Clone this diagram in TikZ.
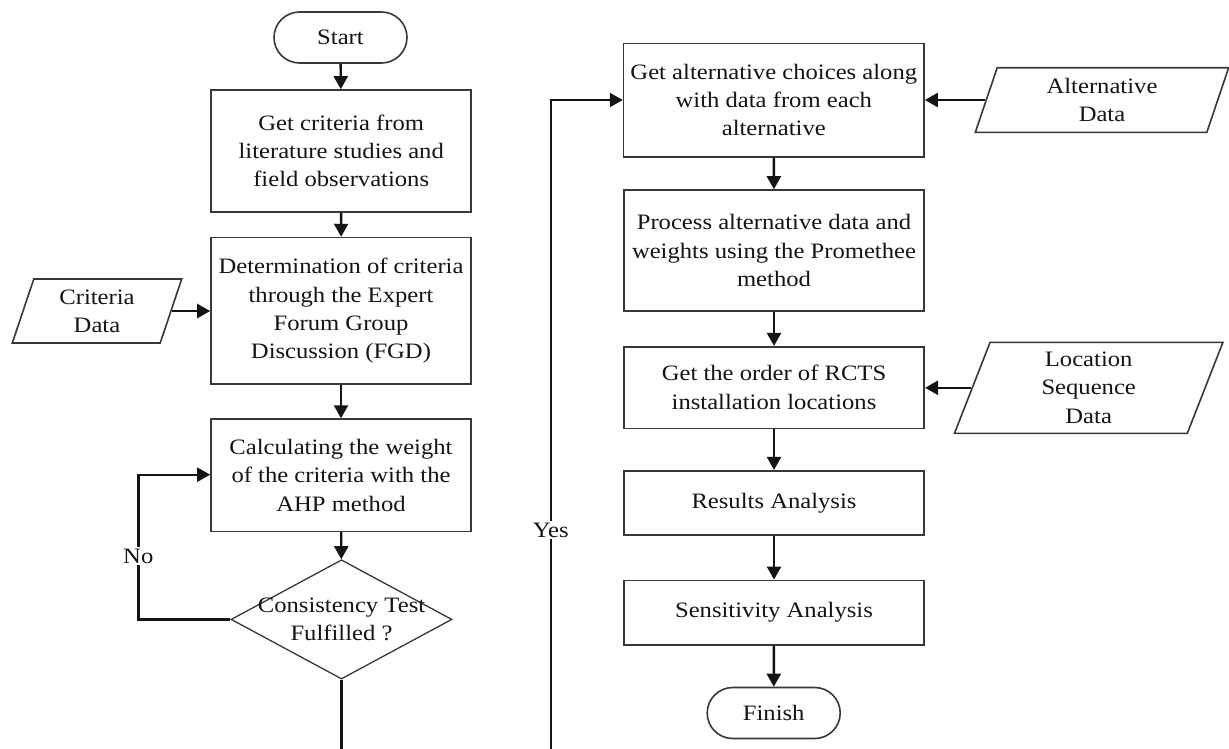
\documentclass[tikz,border=0pt]{standalone}
\usepackage{fontspec}
\setmainfont{Liberation Serif}[FakeStretch=1.12]
\usetikzlibrary{shapes.geometric,arrows.meta}
\definecolor{ink}{HTML}{141414}
\definecolor{edge}{HTML}{383838}
\begin{document}
\begin{tikzpicture}[x=1pt,y=-1pt,
  base/.style={font=\fontsize{22}{28.3}\selectfont, text=ink, align=center, inner sep=0pt},
  proc/.style={base, rectangle, draw=edge, line width=1.6pt},
  lproc/.style={proc, minimum width=260pt},
  rproc/.style={proc, minimum width=300.5pt},
  term/.style={base, rectangle, draw=edge, line width=1.6pt, rounded corners=25.5pt,
    minimum width=133pt, minimum height=51pt},
  iodata/.style={base, trapezium, trapezium left angle=63.5, trapezium right angle=116.5,
    trapezium stretches body, draw=edge, line width=1.6pt},
  decision/.style={diamond, draw=edge, line width=1.3pt, inner sep=0pt,
    minimum width=221pt, minimum height=119.3pt},
  flow/.style={draw=ink, line width=2.4pt, -{Triangle[length=13pt,width=14pt]}},
  tag/.style={base, fill=white, inner sep=2pt}
]
\clip (0,0) rectangle (1229,748);
\fill[white] (0,0) rectangle (1229,748);

% left column
\node[term] (start) at (340.5,37.5) {Start};
\node[lproc, minimum height=122pt] (crit) at (341.2,151) {Get criteria from\\literature studies and\\field observations};
\node[lproc, minimum height=146.5pt] (fgd) at (341,310.8) {Determination of criteria\\through the Expert\\Forum Group\\Discussion (FGD)};
\node[lproc, minimum height=112.3pt] (ahp) at (341,475.2) {Calculating the weight\\of the criteria with the\\AHP method};
\node[decision, label={[base]center:{Consistency Test\\Fulfilled ?}}] (test) at (341.5,619.4) {};
\node[iodata, minimum width=169.4pt, minimum height=64pt] (cdata) at (97,311) {Criteria\\Data};

% right column
\node[rproc, minimum height=113.4pt] (alt) at (773.8,100) {Get alternative choices along\\with data from each\\alternative};
\node[rproc, minimum height=121pt] (prom) at (774,250.5) {Process alternative data and\\weights using the Promethee\\method};
\node[rproc, minimum height=81.6pt] (order) at (774,387.5) {Get the order of RCTS\\installation locations};
\node[rproc, minimum height=64.3pt] (res) at (774,502.9) {Results Analysis};
\node[rproc, minimum height=64.4pt] (sens) at (774,612.5) {Sensitivity Analysis};
\node[term] (finish) at (773.7,713) {Finish};
\node[iodata, minimum width=253.3pt, minimum height=64.6pt] (adata) at (1102,100) {Alternative\\Data};
\node[iodata, minimum width=268.4pt, minimum height=91pt] (ldata) at (1088.7,387.8) {Location\\Sequence\\Data};

% main flow
\draw[flow] (start) -- (crit);
\draw[flow] (crit) -- (fgd);
\draw[flow] (cdata.east) -- (fgd.west |- cdata.east);
\draw[flow] (fgd) -- (ahp);
\draw[flow] (ahp) -- (test);

% rejection loop
\coordinate (nobend) at (138.3,474.7);
\draw[flow] (test.west) -| (nobend) -- (nobend -| ahp.west);
\node[tag] (nolabel) at (138.3,556) {No};

% acceptance path, continuing below the frame
\coordinate (yesfoot) at (550.7,770);
\draw[flow] (test.south) -- (test.south |- yesfoot) -- (yesfoot) |- (alt.west);
\node[tag] (yeslabel) at (550.7,530) {Yes};

\draw[flow] (adata.west) -- (alt.east |- adata.west);
\draw[flow] (alt) -- (prom);
\draw[flow] (prom) -- (order);
\draw[flow] (ldata.west) -- (order.east |- ldata.west);
\draw[flow] (order) -- (res);
\draw[flow] (res) -- (sens);
\draw[flow] (sens) -- (finish);
\end{tikzpicture}
\end{document}
